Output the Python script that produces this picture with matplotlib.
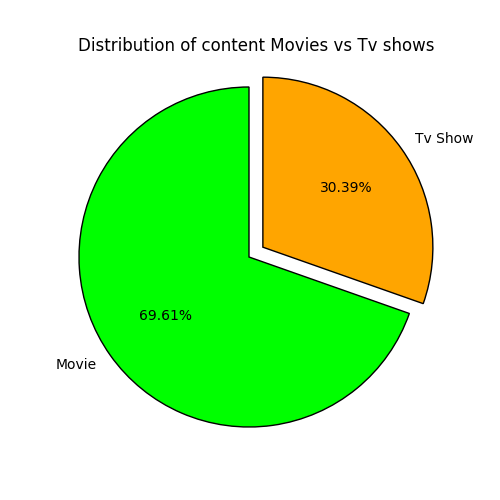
import matplotlib
matplotlib.use("Agg")
import matplotlib.pyplot as plt

labels = ["Movie", "Tv Show"]
shares = [69.61, 30.39]
colors = ["#00ff00", "#ffa500"]
explode = [0.0, 0.1]

fig = plt.figure(figsize=(5, 5), dpi=100)
ax = fig.add_axes([0.073, 0.061, 0.85, 0.85])
ax.pie(shares, labels=labels, colors=colors, explode=explode,
       autopct="%.2f%%", startangle=90,
       wedgeprops={"edgecolor": "black", "linewidth": 1})
ax.set_xlim(-1.25, 1.25)
ax.set_ylim(-1.25, 1.25)
fig.text(0.512, 0.908, "Distribution of content Movies vs Tv shows",
         ha="center", va="center", fontsize=12)
fig.savefig("out.png", dpi=100)
